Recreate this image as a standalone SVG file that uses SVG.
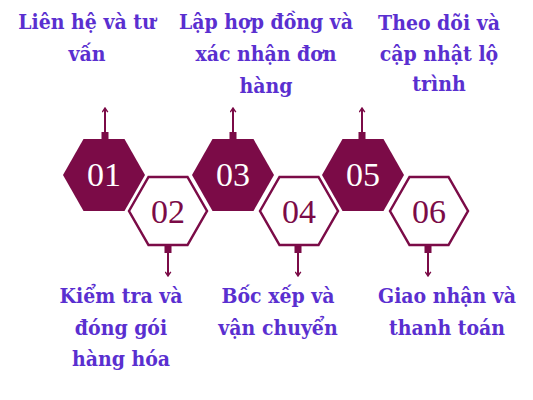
<svg xmlns="http://www.w3.org/2000/svg" width="533" height="400" viewBox="0 0 533 400">
<defs>
<style>
.lbl{font-family:"DejaVu Serif","Liberation Serif",serif;font-weight:bold;font-size:21px;fill:#5a2fd0;text-anchor:middle;font-stretch:condensed}
.num{font-family:"Liberation Serif","Times New Roman",serif;font-size:34px;text-anchor:middle}
.hf{fill:#7b0b47}
.ho{fill:#fff;stroke:#7b0b47;stroke-width:2.5}
.cn{stroke:#7b0b47;stroke-width:2;fill:none}
.sq{fill:#7b0b47}
</style>
<marker id="ah" viewBox="0 0 10 10" refX="9" refY="5" markerWidth="7" markerHeight="7" orient="auto" markerUnits="userSpaceOnUse">
<path d="M3,1 L9,5 L3,9" fill="none" stroke="#7b0b47" stroke-width="2"/>
</marker>
<polygon id="hexF" points="-41,0 -20.5,-36 20.5,-36 41,0 20.5,36 -20.5,36"/>
<polygon id="hexO" points="-39,0 -19.5,-34 19.5,-34 39,0 19.5,34 -19.5,34"/>
</defs>
<rect width="533" height="400" fill="#fff"/>
<g id="connectors">
<path class="cn" d="M105,134 V108" marker-end="url(#ah)"/>
<path class="cn" d="M233,134 V108" marker-end="url(#ah)"/>
<path class="cn" d="M362,134 V108" marker-end="url(#ah)"/>
<path class="cn" d="M168,251 V276" marker-end="url(#ah)"/>
<path class="cn" d="M298,251 V276" marker-end="url(#ah)"/>
<path class="cn" d="M428,251 V276" marker-end="url(#ah)"/>
<rect class="sq" x="101.5" y="132" width="7" height="7"/>
<rect class="sq" x="229.5" y="132" width="7" height="7"/>
<rect class="sq" x="358.5" y="132" width="7" height="7"/>
<rect class="sq" x="164.5" y="246" width="7" height="7"/>
<rect class="sq" x="294.5" y="246" width="7" height="7"/>
<rect class="sq" x="424.5" y="246" width="7" height="7"/>
</g>
<g id="node1">
<use href="#hexF" class="hf" x="104" y="175"/>
<text class="num" x="104" y="186" fill="#fff">01</text>
<text class="lbl" x="87" y="29">Liên hệ và tư</text>
<text class="lbl" x="87" y="61">vấn</text>
</g>
<g id="node2">
<use href="#hexO" class="ho" x="168" y="211"/>
<text class="num" x="168" y="223" fill="#7b0b47">02</text>
<text class="lbl" x="121" y="303">Kiểm tra và</text>
<text class="lbl" x="121" y="335">đóng gói</text>
<text class="lbl" x="121" y="366">hàng hóa</text>
</g>
<g id="node3">
<use href="#hexF" class="hf" x="233" y="175"/>
<text class="num" x="233" y="186" fill="#fff">03</text>
<text class="lbl" x="266" y="29">Lập hợp đồng và</text>
<text class="lbl" x="266" y="61">xác nhận đơn</text>
<text class="lbl" x="266" y="93">hàng</text>
</g>
<g id="node4">
<use href="#hexO" class="ho" x="299" y="211"/>
<text class="num" x="299" y="223" fill="#7b0b47">04</text>
<text class="lbl" x="278" y="303">Bốc xếp và</text>
<text class="lbl" x="278" y="335">vận chuyển</text>
</g>
<g id="node5">
<use href="#hexF" class="hf" x="363" y="175"/>
<text class="num" x="363" y="186" fill="#fff">05</text>
<text class="lbl" x="439" y="30">Theo dõi và</text>
<text class="lbl" x="439" y="61">cập nhật lộ</text>
<text class="lbl" x="439" y="91">trình</text>
</g>
<g id="node6">
<use href="#hexO" class="ho" x="429" y="211"/>
<text class="num" x="429" y="223" fill="#7b0b47">06</text>
<text class="lbl" x="447" y="303">Giao nhận và</text>
<text class="lbl" x="447" y="335">thanh toán</text>
</g>
</svg>
